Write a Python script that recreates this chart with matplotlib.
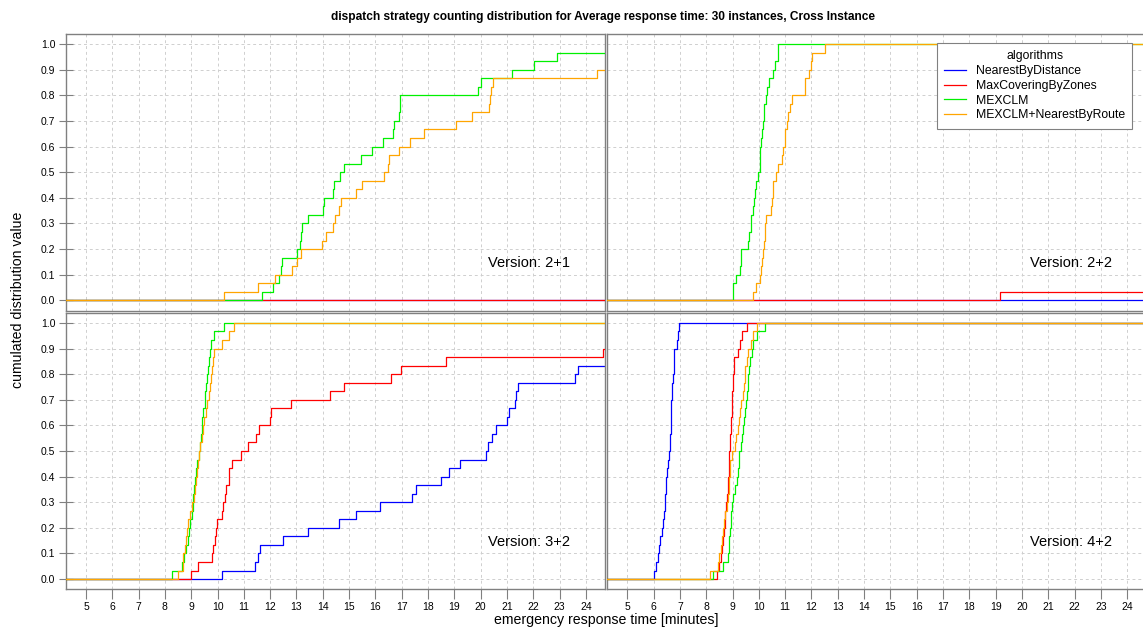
import numpy as np
import matplotlib
matplotlib.use("Agg")
import matplotlib.pyplot as plt

plt.rcParams['font.family'] = ['Liberation Sans', 'DejaVu Sans']

# response times (minutes) of the 30 instances, sorted; OUT = beyond the plotted range
OUT = 30.0

versions = ["Version: 2+1", "Version: 2+2", "Version: 3+2", "Version: 4+2"]
algorithms = ["NearestByDistance", "MaxCoveringByZones", "MEXCLM", "MEXCLM+NearestByRoute"]
colors = ["#0000ff", "#ff0000", "#00f000", "#ffa500"]

# Version 2+1
v21_nearest = [OUT] * 30
v21_maxcov = [OUT] * 30
v21_mexclm = [11.68, 12.12, 12.34, 12.41, 12.46, 13.02, 13.12, 13.18, 13.22, 13.42,
              14.01, 14.04, 14.39, 14.43, 14.64, 14.79, 15.44, 15.87, 16.28, 16.68,
              16.72, 16.90, 16.94, 16.95, 19.89, 20.02, 21.19, 22.02, 22.92, OUT]
v21_route = [10.23, 11.55, 12.18, 12.83, 13.01, 13.18, 13.99, 14.12, 14.39, 14.48,
             14.61, 14.68, 15.25, 15.49, 16.31, 16.48, 16.50, 16.90, 17.30, 17.83,
             19.05, 19.67, 20.31, 20.35, 20.39, 20.49, 24.44, OUT, OUT, OUT]

# Version 2+2
v22_nearest = [OUT] * 30
v22_maxcov = [19.16] + [OUT] * 29
v22_mexclm = [9.03, 9.03, 9.13, 9.30, 9.31, 9.32, 9.58, 9.63, 9.70, 9.71,
              9.77, 9.83, 9.84, 9.90, 9.95, 10.03, 10.05, 10.06, 10.10, 10.12,
              10.16, 10.19, 10.21, 10.27, 10.32, 10.38, 10.53, 10.63, 10.72, 10.73]
v22_route = [9.78, 9.89, 10.05, 10.08, 10.12, 10.14, 10.20, 10.23, 10.25, 10.27,
             10.46, 10.50, 10.53, 10.55, 10.65, 10.72, 10.89, 10.93, 10.98, 11.01,
             11.07, 11.11, 11.18, 11.26, 11.77, 11.77, 11.91, 12.00, 12.03, 12.50]

# Version 3+2
v32_nearest = [10.18, 11.42, 11.54, 11.61, 12.49, 13.45, 14.60, 15.28, 16.19, 17.39,
               17.54, 18.48, 18.81, 19.22, 20.21, 20.29, 20.42, 20.57, 21.02, 21.09,
               21.29, 21.35, 21.42, 23.58, 23.69, OUT, OUT, OUT, OUT, OUT]
v32_maxcov = [9.00, 9.26, 9.80, 9.83, 9.92, 9.94, 9.98, 10.18, 10.21, 10.29,
              10.31, 10.42, 10.45, 10.54, 10.91, 11.14, 11.48, 11.57, 12.00, 12.05,
              12.80, 14.29, 14.79, 16.59, 16.99, 18.68, 24.65, OUT, OUT, OUT]
v32_mexclm = [8.27, 8.65, 8.72, 8.82, 8.88, 8.92, 8.96, 9.03, 9.05, 9.07,
              9.12, 9.15, 9.18, 9.22, 9.28, 9.32, 9.36, 9.40, 9.42, 9.46,
              9.52, 9.54, 9.58, 9.60, 9.63, 9.67, 9.73, 9.76, 9.87, 10.25]
v32_route = [8.48, 8.68, 8.70, 8.76, 8.80, 8.83, 8.88, 8.94, 9.02, 9.10,
             9.14, 9.18, 9.22, 9.26, 9.29, 9.35, 9.40, 9.44, 9.47, 9.55,
             9.61, 9.66, 9.72, 9.77, 9.80, 9.83, 9.87, 10.17, 10.45, 10.62]

# Version 4+2
v42_nearest = [6.00, 6.10, 6.16, 6.20, 6.23, 6.32, 6.36, 6.40, 6.42, 6.45,
               6.47, 6.49, 6.51, 6.55, 6.58, 6.61, 6.64, 6.66, 6.67, 6.68,
               6.68, 6.69, 6.69, 6.73, 6.76, 6.78, 6.79, 6.88, 6.94, 6.96]
v42_maxcov = [8.42, 8.50, 8.55, 8.60, 8.64, 8.67, 8.70, 8.73, 8.76, 8.79,
              8.81, 8.83, 8.85, 8.87, 8.88, 8.90, 8.92, 8.94, 8.95, 8.97,
              8.98, 8.99, 9.01, 9.02, 9.04, 9.05, 9.22, 9.30, 9.35, 9.55]
v42_mexclm = [8.26, 8.64, 8.83, 8.86, 8.88, 8.90, 8.93, 8.95, 8.98, 9.00,
              9.10, 9.16, 9.20, 9.23, 9.26, 9.31, 9.35, 9.39, 9.42, 9.47,
              9.51, 9.54, 9.57, 9.59, 9.64, 9.68, 9.73, 9.77, 9.94, 10.24]
v42_route = [8.13, 8.44, 8.50, 8.55, 8.59, 8.63, 8.67, 8.70, 8.79, 8.82,
             8.85, 8.87, 8.89, 8.90, 8.99, 9.08, 9.14, 9.19, 9.24, 9.29,
             9.32, 9.40, 9.44, 9.47, 9.49, 9.55, 9.59, 9.72, 9.77, 9.92]

panel_data = [
    [v21_nearest, v21_maxcov, v21_mexclm, v21_route],
    [v22_nearest, v22_maxcov, v22_mexclm, v22_route],
    [v32_nearest, v32_maxcov, v32_mexclm, v32_route],
    [v42_nearest, v42_maxcov, v42_mexclm, v42_route],
]

x_lo, x_hi = 4.24, 24.74
y_lo, y_hi = -0.04, 1.04
frame_col = "#808080"

fig = plt.figure(figsize=(11.43, 6.29), dpi=100)
W, H = 1143.0, 629.0
# panel boxes in pixels: left, top, right, bottom
boxes = [(66, 33.7, 605.3, 310.7), (607.3, 33.7, 1146.6, 310.7),
         (66, 312.7, 605.3, 589.3), (607.3, 312.7, 1146.6, 589.3)]

for i, (l, t, r, b) in enumerate(boxes):
    ax = fig.add_axes([l / W, 1 - b / H, (r - l) / W, (b - t) / H])
    for j, times in enumerate(panel_data[i]):
        xs = np.sort(np.array(times, dtype=float))
        ys = np.arange(1, len(xs) + 1) / len(xs)
        ax.step(np.r_[x_lo - 1, xs, x_hi + 1], np.r_[0, ys, ys[-1]], where='post',
                color=colors[j], lw=0.9, label=algorithms[j], zorder=2 + j)
    ax.set_xlim(x_lo, x_hi)
    ax.set_ylim(y_lo, y_hi)
    ax.set_xticks(np.arange(5, 25))
    ax.set_yticks(np.arange(0, 1.01, 0.1))
    ax.grid(color="#cfcfcf", linestyle=(0, (3, 3)), linewidth=0.7, zorder=0)
    for s in ax.spines.values():
        s.set_color(frame_col)
        s.set_linewidth(1.0)
    ax.tick_params(colors=frame_col, labelcolor="black", labelsize=7.5, width=0.8)
    if i in (0, 2):
        ax.tick_params(axis='y', direction='inout', length=9.4, pad=3)
        ax.set_yticklabels([f"{v:.1f}" for v in np.arange(0, 1.01, 0.1)])
    else:
        ax.tick_params(axis='y', left=False, labelleft=False)
    if i in (2, 3):
        ax.tick_params(axis='x', direction='out', length=7.5, pad=2)
    else:
        ax.tick_params(axis='x', bottom=False, labelbottom=False)
    ax.text(20.3, 0.145, versions[i], fontsize=10.5, va='center', ha='left')
    if i == 1:
        leg = ax.legend(title="algorithms", loc='upper left', bbox_to_anchor=(0.611, 0.966),
                        borderaxespad=0, fancybox=False, framealpha=1, edgecolor=frame_col,
                        fontsize=8.8, title_fontsize=8.8, handlelength=1.8, handletextpad=0.8,
                        labelspacing=0.22, borderpad=0.6)
        leg.get_frame().set_linewidth(0.8)
        leg.set_zorder(10)

fig.text(603 / W, 1 - 17 / H, "dispatch strategy counting distribution for Average response time: 30 instances, Cross Instance",
         ha='center', va='center', fontsize=8.6, fontweight='bold')
fig.text(606 / W, 1 - 620 / H, "emergency response time [minutes]", ha='center', va='center', fontsize=10.2)
fig.text(18 / W, 1 - 300 / H, "cumulated distribution value", ha='center', va='center', rotation=90, fontsize=10.2)

fig.savefig("out.png", dpi=100)
